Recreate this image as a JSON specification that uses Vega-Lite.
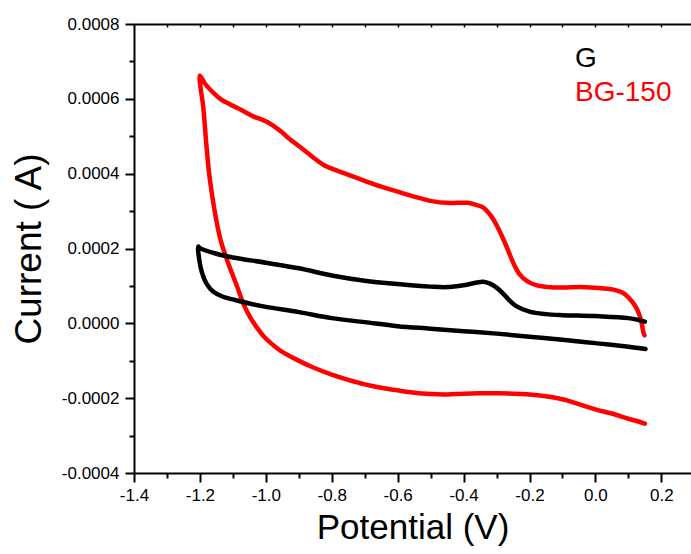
{
  "$schema": "https://vega.github.io/schema/vega-lite/v6.json",
  "autosize": "none",
  "width": 557,
  "height": 449,
  "padding": {"left": 134, "top": 24, "right": 0, "bottom": 81},
  "config": {
    "view": {"stroke": null},
    "font": "Liberation Sans",
    "locale": {"number": {"decimal": ".", "thousands": ",", "grouping": [3], "currency": ["$", ""], "minus": "-"}},
    "axis": {"grid": false, "domainColor": "black", "tickColor": "black", "labelColor": "black", "titleColor": "black", "labelFont": "Liberation Sans", "titleFont": "Liberation Sans", "titleFontWeight": "normal", "labelOverlap": false, "labelFlush": false}
  },
  "data": {"values": [
    {"series": "BG-150", "i": 0, "potential": 0.15, "current": -0.000268},
    {"series": "BG-150", "i": 1, "potential": 0.125, "current": -0.000261},
    {"series": "BG-150", "i": 2, "potential": 0.1, "current": -0.000255},
    {"series": "BG-150", "i": 3, "potential": 0.05, "current": -0.000241},
    {"series": "BG-150", "i": 4, "potential": 0.0, "current": -0.00023},
    {"series": "BG-150", "i": 5, "potential": -0.05, "current": -0.000216},
    {"series": "BG-150", "i": 6, "potential": -0.1, "current": -0.000203},
    {"series": "BG-150", "i": 7, "potential": -0.15, "current": -0.000195},
    {"series": "BG-150", "i": 8, "potential": -0.2, "current": -0.00019},
    {"series": "BG-150", "i": 9, "potential": -0.25, "current": -0.000188},
    {"series": "BG-150", "i": 10, "potential": -0.3, "current": -0.000187},
    {"series": "BG-150", "i": 11, "potential": -0.35, "current": -0.000187},
    {"series": "BG-150", "i": 12, "potential": -0.4, "current": -0.000188},
    {"series": "BG-150", "i": 13, "potential": -0.45, "current": -0.00019},
    {"series": "BG-150", "i": 14, "potential": -0.5, "current": -0.000189},
    {"series": "BG-150", "i": 15, "potential": -0.56, "current": -0.000184},
    {"series": "BG-150", "i": 16, "potential": -0.6, "current": -0.000179},
    {"series": "BG-150", "i": 17, "potential": -0.65, "current": -0.000172},
    {"series": "BG-150", "i": 18, "potential": -0.7, "current": -0.000163},
    {"series": "BG-150", "i": 19, "potential": -0.75, "current": -0.000151},
    {"series": "BG-150", "i": 20, "potential": -0.8, "current": -0.000137},
    {"series": "BG-150", "i": 21, "potential": -0.856, "current": -0.000118},
    {"series": "BG-150", "i": 22, "potential": -0.907, "current": -0.000097},
    {"series": "BG-150", "i": 23, "potential": -0.956, "current": -0.000073},
    {"series": "BG-150", "i": 24, "potential": -0.983, "current": -0.0000543},
    {"series": "BG-150", "i": 25, "potential": -1.008, "current": -0.0000329},
    {"series": "BG-150", "i": 26, "potential": -1.027, "current": -0.0000115},
    {"series": "BG-150", "i": 27, "potential": -1.047, "current": 0.0000152},
    {"series": "BG-150", "i": 28, "potential": -1.067, "current": 0.00005},
    {"series": "BG-150", "i": 29, "potential": -1.087, "current": 0.0000979},
    {"series": "BG-150", "i": 30, "potential": -1.118, "current": 0.00017},
    {"series": "BG-150", "i": 31, "potential": -1.138, "current": 0.000225},
    {"series": "BG-150", "i": 32, "potential": -1.156, "current": 0.000304},
    {"series": "BG-150", "i": 33, "potential": -1.171, "current": 0.000393},
    {"series": "BG-150", "i": 34, "potential": -1.181, "current": 0.000483},
    {"series": "BG-150", "i": 35, "potential": -1.189, "current": 0.000571},
    {"series": "BG-150", "i": 37, "potential": -1.2, "current": 0.000662},
    {"series": "BG-150", "i": 38, "potential": -1.185, "current": 0.000641},
    {"series": "BG-150", "i": 39, "potential": -1.159, "current": 0.000616},
    {"series": "BG-150", "i": 40, "potential": -1.135, "current": 0.000598},
    {"series": "BG-150", "i": 41, "potential": -1.108, "current": 0.000585},
    {"series": "BG-150", "i": 42, "potential": -1.07, "current": 0.000568},
    {"series": "BG-150", "i": 43, "potential": -1.038, "current": 0.000553},
    {"series": "BG-150", "i": 44, "potential": -1.0, "current": 0.00054},
    {"series": "BG-150", "i": 45, "potential": -0.976, "current": 0.000527},
    {"series": "BG-150", "i": 46, "potential": -0.95, "current": 0.00051},
    {"series": "BG-150", "i": 47, "potential": -0.926, "current": 0.000491},
    {"series": "BG-150", "i": 48, "potential": -0.9, "current": 0.000474},
    {"series": "BG-150", "i": 49, "potential": -0.874, "current": 0.000456},
    {"series": "BG-150", "i": 50, "potential": -0.85, "current": 0.000439},
    {"series": "BG-150", "i": 51, "potential": -0.826, "current": 0.000424},
    {"series": "BG-150", "i": 52, "potential": -0.79, "current": 0.00041},
    {"series": "BG-150", "i": 53, "potential": -0.753, "current": 0.000398},
    {"series": "BG-150", "i": 54, "potential": -0.7, "current": 0.000381},
    {"series": "BG-150", "i": 55, "potential": -0.652, "current": 0.000366},
    {"series": "BG-150", "i": 56, "potential": -0.6, "current": 0.000352},
    {"series": "BG-150", "i": 57, "potential": -0.571, "current": 0.000344},
    {"series": "BG-150", "i": 58, "potential": -0.53, "current": 0.000334},
    {"series": "BG-150", "i": 59, "potential": -0.492, "current": 0.000326},
    {"series": "BG-150", "i": 60, "potential": -0.45, "current": 0.000322},
    {"series": "BG-150", "i": 61, "potential": -0.42, "current": 0.000322},
    {"series": "BG-150", "i": 62, "potential": -0.388, "current": 0.000322},
    {"series": "BG-150", "i": 63, "potential": -0.36, "current": 0.000316},
    {"series": "BG-150", "i": 64, "potential": -0.34, "current": 0.000309},
    {"series": "BG-150", "i": 65, "potential": -0.325, "current": 0.000296},
    {"series": "BG-150", "i": 66, "potential": -0.309, "current": 0.000277},
    {"series": "BG-150", "i": 67, "potential": -0.294, "current": 0.000252},
    {"series": "BG-150", "i": 68, "potential": -0.279, "current": 0.000224},
    {"series": "BG-150", "i": 69, "potential": -0.264, "current": 0.000193},
    {"series": "BG-150", "i": 70, "potential": -0.249, "current": 0.000161},
    {"series": "BG-150", "i": 71, "potential": -0.23, "current": 0.000131},
    {"series": "BG-150", "i": 72, "potential": -0.206, "current": 0.000112},
    {"series": "BG-150", "i": 73, "potential": -0.18, "current": 0.000102},
    {"series": "BG-150", "i": 74, "potential": -0.146, "current": 0.0000973},
    {"series": "BG-150", "i": 75, "potential": -0.1, "current": 0.0000955},
    {"series": "BG-150", "i": 76, "potential": -0.046, "current": 0.0000973},
    {"series": "BG-150", "i": 77, "potential": 0.0, "current": 0.000095},
    {"series": "BG-150", "i": 78, "potential": 0.054, "current": 0.0000901},
    {"series": "BG-150", "i": 79, "potential": 0.08, "current": 0.000083},
    {"series": "BG-150", "i": 80, "potential": 0.097, "current": 0.0000722},
    {"series": "BG-150", "i": 81, "potential": 0.113, "current": 0.000056},
    {"series": "BG-150", "i": 82, "potential": 0.127, "current": 0.0000366},
    {"series": "BG-150", "i": 83, "potential": 0.138, "current": 0.00001},
    {"series": "BG-150", "i": 84, "potential": 0.146, "current": -0.0000257},
    {"series": "BG-150", "i": 85, "potential": 0.149, "current": -0.000032},
    {"series": "G", "i": 0, "potential": 0.152, "current": -0.0000684},
    {"series": "G", "i": 1, "potential": 0.1, "current": -0.0000623},
    {"series": "G", "i": 2, "potential": 0.0, "current": -0.0000529},
    {"series": "G", "i": 3, "potential": -0.1, "current": -0.0000436},
    {"series": "G", "i": 4, "potential": -0.2, "current": -0.0000356},
    {"series": "G", "i": 5, "potential": -0.3, "current": -0.0000275},
    {"series": "G", "i": 6, "potential": -0.4, "current": -0.0000209},
    {"series": "G", "i": 7, "potential": -0.5, "current": -0.0000142},
    {"series": "G", "i": 8, "potential": -0.6, "current": -0.0000075},
    {"series": "G", "i": 9, "potential": -0.7, "current": 0.0000032},
    {"series": "G", "i": 10, "potential": -0.8, "current": 0.0000139},
    {"series": "G", "i": 11, "potential": -0.9, "current": 0.00003},
    {"series": "G", "i": 12, "potential": -1.0, "current": 0.000044},
    {"series": "G", "i": 13, "potential": -1.05, "current": 0.000053},
    {"series": "G", "i": 14, "potential": -1.1, "current": 0.000064},
    {"series": "G", "i": 15, "potential": -1.13, "current": 0.000071},
    {"series": "G", "i": 16, "potential": -1.16, "current": 0.000085},
    {"series": "G", "i": 17, "potential": -1.18, "current": 0.000106},
    {"series": "G", "i": 18, "potential": -1.194, "current": 0.000136},
    {"series": "G", "i": 19, "potential": -1.202, "current": 0.00017},
    {"series": "G", "i": 20, "potential": -1.205, "current": 0.000205},
    {"series": "G", "i": 21, "potential": -1.2, "current": 0.000201},
    {"series": "G", "i": 22, "potential": -1.15, "current": 0.000186},
    {"series": "G", "i": 23, "potential": -1.1, "current": 0.000176},
    {"series": "G", "i": 24, "potential": -1.0, "current": 0.000162},
    {"series": "G", "i": 25, "potential": -0.9, "current": 0.000147},
    {"series": "G", "i": 26, "potential": -0.8, "current": 0.000128},
    {"series": "G", "i": 27, "potential": -0.7, "current": 0.000114},
    {"series": "G", "i": 28, "potential": -0.6, "current": 0.000105},
    {"series": "G", "i": 29, "potential": -0.5, "current": 0.0000981},
    {"series": "G", "i": 30, "potential": -0.45, "current": 0.0000968},
    {"series": "G", "i": 31, "potential": -0.4, "current": 0.000102},
    {"series": "G", "i": 32, "potential": -0.36, "current": 0.000109},
    {"series": "G", "i": 33, "potential": -0.34, "current": 0.000111},
    {"series": "G", "i": 34, "potential": -0.32, "current": 0.000106},
    {"series": "G", "i": 35, "potential": -0.3, "current": 0.0000955},
    {"series": "G", "i": 36, "potential": -0.28, "current": 0.0000794},
    {"series": "G", "i": 37, "potential": -0.26, "current": 0.0000607},
    {"series": "G", "i": 38, "potential": -0.24, "current": 0.000046},
    {"series": "G", "i": 39, "potential": -0.2, "current": 0.0000313},
    {"series": "G", "i": 40, "potential": -0.15, "current": 0.0000246},
    {"series": "G", "i": 41, "potential": -0.1, "current": 0.0000219},
    {"series": "G", "i": 42, "potential": 0.0, "current": 0.0000193},
    {"series": "G", "i": 43, "potential": 0.1, "current": 0.0000139},
    {"series": "G", "i": 44, "potential": 0.15, "current": 0.0000045}
  ]},
  "layer": [
    {
      "mark": {"type": "line", "strokeWidth": 4.5, "strokeJoin": "round", "strokeCap": "round", "interpolate": "catmull-rom"},
      "encoding": {
        "x": {"field": "potential", "type": "quantitative", "scale": {"domain": [-1.4, 0.29], "nice": false, "zero": false},
              "axis": {"orient": "bottom", "title": "Potential (V)", "values": [-1.4, -1.2, -1.0, -0.8, -0.6, -0.4, -0.2, 0.0, 0.2], "format": ".1f", "labelFontSize": 17, "titleFontSize": 35, "tickSize": 9, "tickWidth": 2, "domainWidth": 2, "labelPadding": 5, "titlePadding": 7}},
        "y": {"field": "current", "type": "quantitative", "scale": {"domain": [-0.0004, 0.0008], "nice": false, "zero": false},
              "axis": {"orient": "left", "title": "Current ( A)", "values": [-0.0004, -0.0002, 0.0, 0.0002, 0.0004, 0.0006, 0.0008], "format": ".4f", "labelFontSize": 17, "titleFontSize": 37, "tickSize": 9, "tickWidth": 2, "domainWidth": 2, "labelPadding": 6, "titlePadding": 13}},
        "color": {"field": "series", "type": "nominal", "scale": {"domain": ["G", "BG-150"], "range": ["#000000", "#ff0000"]},
                  "legend": {"orient": "none", "legendX": 413, "legendY": 21, "title": null, "symbolSize": 0, "symbolStrokeWidth": 0, "symbolOpacity": 0, "labelFontSize": 28, "labelFont": "Liberation Sans", "labelOffset": 0, "rowPadding": 6, "padding": 0,
                             "encode": {"labels": {"update": {"fill": {"signal": "datum.value === 'G' ? '#000000' : '#ff0000'"}}}}}},
        "order": {"field": "i", "type": "quantitative"}
      }
    },
    {
      "mark": {"type": "line", "opacity": 0},
      "encoding": {
        "x": {"field": "potential", "type": "quantitative",
              "axis": {"orient": "bottom", "title": null, "values": [-1.3, -1.1, -0.9, -0.7, -0.5, -0.3, -0.1, 0.1], "labels": false, "domain": false, "tickSize": 5, "tickWidth": 2}},
        "y": {"field": "current", "type": "quantitative",
              "axis": {"orient": "left", "title": null, "values": [-0.0003, -0.0001, 0.0001, 0.0003, 0.0005, 0.0007], "labels": false, "domain": false, "tickSize": 5, "tickWidth": 2}},
        "detail": {"field": "series", "type": "nominal"},
        "order": {"field": "i", "type": "quantitative"}
      }
    },
    {
      "mark": {"type": "line", "opacity": 0},
      "encoding": {
        "x": {"field": "potential", "type": "quantitative",
              "axis": {"orient": "top", "title": null, "values": [-1.3, -1.2, -1.1, -1.0, -0.9, -0.8, -0.7, -0.6, -0.5, -0.4, -0.3, -0.2, -0.1, 0.0, 0.1, 0.2], "labels": false, "domainWidth": 2, "tickSize": -3, "tickWidth": 1.5}},
        "y": {"field": "current", "type": "quantitative", "axis": null},
        "detail": {"field": "series", "type": "nominal"},
        "order": {"field": "i", "type": "quantitative"}
      }
    }
  ],
  "resolve": {"axis": {"x": "independent", "y": "independent"}}
}
